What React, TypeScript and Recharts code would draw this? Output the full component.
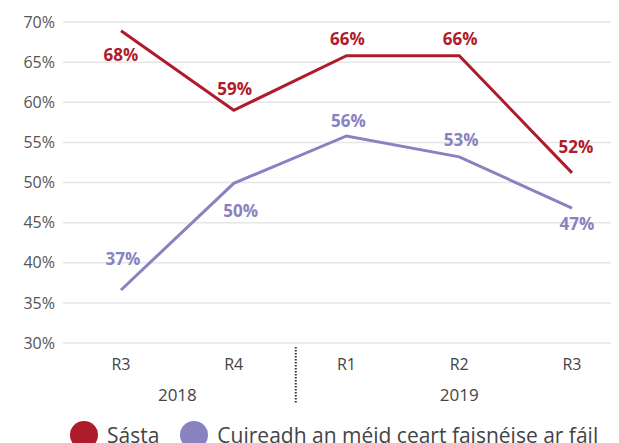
import React from 'react';
import { LineChart, Line, XAxis, YAxis, CartesianGrid, Legend, LabelList, ReferenceLine } from 'recharts';

const categories = ['R3', 'R4', 'R1', 'R2', 'R3'];
const years = ['2018', '2019'];
const yearTickValues = [0.5, 3];
const dividerValue = 1.55;
const sastaValues = [68.9, 59.0, 65.8, 65.8, 51.2];
const sastaLabels = ['68%', '59%', '66%', '66%', '52%'];
const infoValues = [36.6, 49.9, 55.8, 53.2, 46.8];
const infoLabels = ['37%', '50%', '56%', '53%', '47%'];
const yTicks = [30, 35, 40, 45, 50, 55, 60, 65, 70];
const seriesNames = ['Sásta', 'Cuireadh an méid ceart faisnéise ar fáil'];

const RED = '#ae1c2c';
const PURPLE = '#8982c0';
const FONT = '"Open Sans", sans-serif';

// label offsets relative to each point (styling only)
const sastaLabelOffsets = [
  [0, 24], [1, -22], [1, -17], [1, -17], [4, -26],
];
const infoLabelOffsets = [
  [2, -32], [7, 27], [2, -15], [2, -17], [5, 15],
];

const data = categories.map((c, i) => ({
  idx: i,
  cat: c,
  sasta: sastaValues[i],
  info: infoValues[i],
}));

const makeLabel = (labels: string[], offsets: number[][], color: string) => (props: any) => {
  const { x, y, index } = props;
  const [dx, dy] = offsets[index];
  return (
    <text
      x={x + dx}
      y={y + dy}
      textAnchor="middle"
      dominantBaseline="central"
      fill={color}
      fontFamily={FONT}
      fontWeight={700}
      fontSize={17}
    >
      {labels[index]}
    </text>
  );
};

const DividerShape = (props: any) => {
  const { x1, y1, y2 } = props;
  const bottom = Math.max(y1, y2);
  return (
    <line
      x1={x1}
      x2={x1}
      y1={bottom + 4}
      y2={bottom + 60}
      stroke="#333"
      strokeWidth={2}
      strokeDasharray="1.5 1.5"
    />
  );
};

const LegendContent = () => (
  <div
    style={{
      display: 'flex',
      alignItems: 'center',
      paddingTop: 15,
      paddingLeft: 62,
      fontFamily: FONT,
      fontSize: 21,
      color: '#444',
      height: 33,
    }}
  >
    {[RED, PURPLE].map((c, i) => (
      <div key={i} style={{ display: 'flex', alignItems: 'center', marginRight: 21 }}>
        <div style={{ width: 28, height: 28, borderRadius: 14, background: c, marginRight: 9 }} />
        <span style={{ whiteSpace: 'nowrap' }}>{seriesNames[i]}</span>
      </div>
    ))}
  </div>
);

export default function App() {
  return (
    <LineChart
      width={611}
      height={443}
      data={data}
      margin={{ top: 14, right: 7, bottom: 0, left: 0 }}
    >
      <CartesianGrid vertical={false} stroke="#e6e6e6" strokeWidth={1.5} />
      <XAxis
        dataKey="idx"
        type="number"
        domain={[0, 4]}
        ticks={[0, 1, 2, 3, 4]}
        tickFormatter={(v: number) => categories[v]}
        padding={{ left: 58, right: 40 }}
        axisLine={false}
        tickLine={false}
        tickSize={0}
        tickMargin={16}
        height={30}
        interval={0}
        tick={{ fill: '#444', fontSize: 16, fontFamily: FONT }}
      />
      <XAxis
        xAxisId="year"
        dataKey="idx"
        type="number"
        domain={[0, 4]}
        ticks={yearTickValues}
        tickFormatter={(v: number) => years[yearTickValues.indexOf(v)]}
        padding={{ left: 58, right: 40 }}
        axisLine={false}
        tickLine={false}
        tickSize={0}
        tickMargin={16}
        height={30}
        interval={0}
        tick={{ fill: '#444', fontSize: 17, fontFamily: FONT }}
      />
      <YAxis
        domain={[30, 70]}
        ticks={yTicks}
        tickFormatter={(v: number) => `${v}%`}
        axisLine={false}
        tickLine={false}
        tickSize={0}
        tickMargin={8}
        width={55}
        interval={0}
        tick={{ fill: '#555', fontSize: 16, fontFamily: FONT }}
      />
      <ReferenceLine x={dividerValue} shape={DividerShape} />
      <Legend verticalAlign="bottom" content={LegendContent} />
      <Line
        type="linear"
        dataKey="sasta"
        name={seriesNames[0]}
        stroke={RED}
        strokeWidth={3}
        dot={false}
        isAnimationActive={false}
      >
        <LabelList dataKey="sasta" content={makeLabel(sastaLabels, sastaLabelOffsets, RED)} />
      </Line>
      <Line
        type="linear"
        dataKey="info"
        name={seriesNames[1]}
        stroke={PURPLE}
        strokeWidth={3}
        dot={false}
        isAnimationActive={false}
      >
        <LabelList dataKey="info" content={makeLabel(infoLabels, infoLabelOffsets, PURPLE)} />
      </Line>
    </LineChart>
  );
}
